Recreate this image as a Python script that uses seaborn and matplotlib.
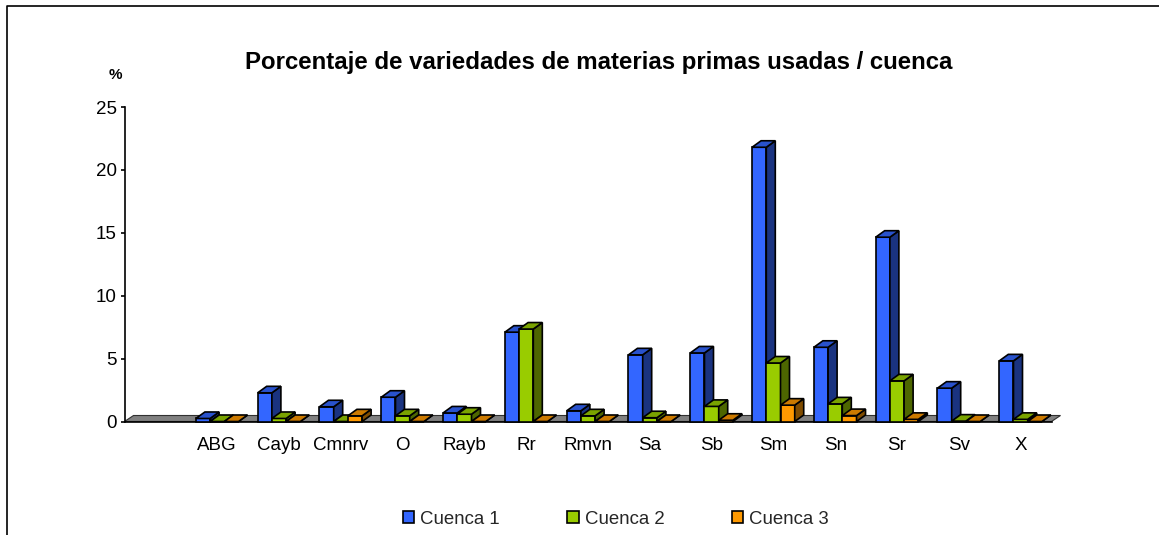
import pandas as pd
import matplotlib
matplotlib.use('Agg')
import matplotlib.pyplot as plt
from matplotlib.patches import Polygon
from matplotlib.lines import Line2D
import seaborn as sns

# values, first category is the empty slot of the original
categorias = ['', 'ABG', 'Cayb', 'Cmnrv', 'O', 'Rayb', 'Rr', 'Rmvn', 'Sa', 'Sb', 'Sm', 'Sn', 'Sr', 'Sv', 'X']
cuenca1 = [None, 0.24, 2.28, 1.17, 1.93, 0.68, 7.1, 0.85, 5.3, 5.45, 21.8, 5.9, 14.65, 2.65, 4.82]
cuenca2 = [None, 0, 0.24, 0, 0.45, 0.58, 7.35, 0.45, 0.3, 1.2, 4.65, 1.4, 3.23, 0.03, 0.17]
cuenca3 = [None, 0, 0, 0.45, 0, 0, 0, 0, 0, 0.1, 1.3, 0.47, 0.17, 0, 0]
series = ['Cuenca 1', 'Cuenca 2', 'Cuenca 3']
yticks = [0, 5, 10, 15, 20, 25]

frente = ['#3366FF', '#99CC00', '#FF9900']
lado = ['#1A3380', '#4D6600', '#804C00']
tapa = ['#2952CC', '#7AA300', '#CC7A00']

W, H = 1159, 535
sns.set_theme(style='white')
plt.rcParams['font.family'] = ['Liberation Sans', 'DejaVu Sans']

df = pd.DataFrame({'categoria': categorias * 3,
                   'serie': [s for s in series for c in categorias],
                   'valor': cuenca1 + cuenca2 + cuenca3})
df['valor'] = pd.to_numeric(df['valor'])

fig = plt.figure(figsize=(W / 100, H / 100), dpi=100, facecolor='white')
ax = fig.add_axes([124.5 / W, 1 - 421.5 / H, 927 / W, 314.5 / H])

sns.barplot(data=df, x='categoria', y='valor', hue='serie', order=categorias, hue_order=series,
            palette=frente, width=0.69, gap=0, saturation=1, edgecolor='black', linewidth=1.2,
            errorbar=None, ax=ax)

ax.set_xlim(-0.5, 14.5)
ax.set_ylim(0, 25)
ax.set_xlabel('')
ax.set_ylabel('')
ax.patch.set_visible(False)

# depth of the fake 3d, in data units
dx = 9 / 927 * 15
dy = 6.5 / 314.5 * 25
dy_piso = 6 / 314.5 * 25

piso = Polygon([(-0.5, 0), (14.5, 0), (14.5 + dx, dy_piso), (-0.5 + dx, dy_piso)], closed=True,
               facecolor='#808080', edgecolor='#303030', linewidth=0.8, clip_on=False, zorder=1)
ax.add_patch(piso)

for i, cont in enumerate(ax.containers):
    for barra in cont:
        h = barra.get_height()
        if pd.isna(h):
            continue
        x0 = barra.get_x()
        x1 = x0 + barra.get_width()
        z = 2 + i * 0.1
        barra.set_zorder(z)
        barra.set_clip_on(False)
        ax.add_patch(Polygon([(x1, 0), (x1 + dx, dy), (x1 + dx, h + dy), (x1, h)], closed=True,
                             facecolor=lado[i], edgecolor='black', linewidth=1.2, clip_on=False, zorder=z))
        ax.add_patch(Polygon([(x0, h), (x1, h), (x1 + dx, h + dy), (x0 + dx, h + dy)], closed=True,
                             facecolor=tapa[i], edgecolor='black', linewidth=1.2, clip_on=False, zorder=z))

sns.despine(ax=ax, top=True, right=True)
ax.spines['left'].set_linewidth(1.2)
ax.spines['left'].set_color('black')
ax.spines['bottom'].set_linewidth(1.2)
ax.spines['bottom'].set_color('black')
ax.spines['bottom'].set_zorder(1.5)

ax.set_yticks(yticks)
ax.tick_params(axis='y', left=True, length=3, width=1.2, color='black', labelsize=13.5, labelcolor='black', pad=2.5)
ax.tick_params(axis='x', bottom=False, length=0, labelsize=13.5, labelcolor='black', pad=11.5)

fig.text(599 / W, 1 - 62 / H, 'Porcentaje de variedades de materias primas usadas / cuenca',
         fontsize=17.3, fontweight='bold', color='black', ha='center', va='center')
fig.text(115 / W, 1 - 75 / H, '%', fontsize=11, fontweight='bold', color='black', ha='center', va='center')

ley = ax.legend(loc='center', bbox_to_anchor=(616 / W, 1 - 519 / H), bbox_transform=fig.transFigure,
                ncols=3, frameon=False, fontsize=13.4, handlelength=0.6, handleheight=0.6,
                handletextpad=0.33, columnspacing=3.62, borderpad=0, borderaxespad=0)
for p in ley.get_patches():
    p.set_edgecolor('black')
    p.set_linewidth(1.2)

# outer frame, only left and top edges fall inside the picture
fig.add_artist(Line2D([6.5 / W, 6.5 / W, 1.01], [-0.01, 1 - 6 / H, 1 - 6 / H], transform=fig.transFigure,
                      color='black', linewidth=1.2))

fig.savefig('out.png', dpi=100)
